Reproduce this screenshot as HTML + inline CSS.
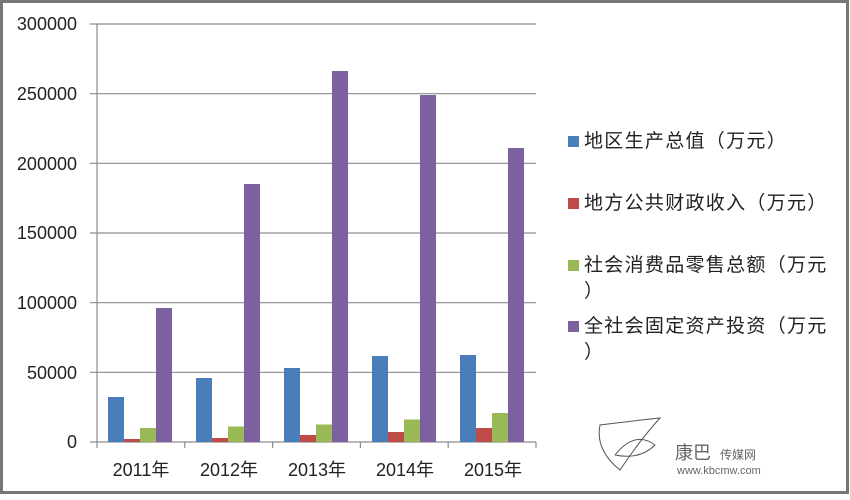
<!DOCTYPE html>
<html><head><meta charset="utf-8"><style>
body{margin:0;background:#fff}
svg text{font-family:"Liberation Sans","Noto Sans CJK SC",sans-serif;fill:#222}
</style></head><body>
<svg width="850" height="495" xmlns="http://www.w3.org/2000/svg">
<rect x="1.5" y="1.5" width="846" height="491" fill="#fff" stroke="#777" stroke-width="3"/>
<g stroke="#8c8c8c" stroke-width="1.2">
<line x1="90" y1="24" x2="536" y2="24"/>
<line x1="90" y1="93.7" x2="536" y2="93.7"/>
<line x1="90" y1="163.3" x2="536" y2="163.3"/>
<line x1="90" y1="233" x2="536" y2="233"/>
<line x1="90" y1="302.7" x2="536" y2="302.7"/>
<line x1="90" y1="372.3" x2="536" y2="372.3"/>
<line x1="90" y1="442" x2="536" y2="442"/>
<line x1="97" y1="24" x2="97" y2="448"/>
<line x1="184.8" y1="442" x2="184.8" y2="448"/>
<line x1="272.6" y1="442" x2="272.6" y2="448"/>
<line x1="360.4" y1="442" x2="360.4" y2="448"/>
<line x1="448.2" y1="442" x2="448.2" y2="448"/>
<line x1="536" y1="442" x2="536" y2="448"/>
</g>
<g font-size="18" text-anchor="end">
<text x="77" y="30">300000</text><text x="77" y="100">250000</text><text x="77" y="170">200000</text>
<text x="77" y="239">150000</text><text x="77" y="309">100000</text><text x="77" y="379">50000</text><text x="77" y="448">0</text>
</g>
<g font-size="18" text-anchor="middle">
<text x="141" y="476">2011年</text><text x="229" y="476">2012年</text><text x="317" y="476">2013年</text><text x="405" y="476">2014年</text><text x="493" y="476">2015年</text>
</g>
<g>
<rect x="108" y="397" width="16" height="45" fill="#4a7ebb"/><rect x="124" y="439" width="16" height="3" fill="#be4b48"/><rect x="140" y="428" width="16" height="14" fill="#98b954"/><rect x="156" y="308" width="16" height="134" fill="#7d60a0"/>
<rect x="196" y="378" width="16" height="64" fill="#4a7ebb"/><rect x="212" y="438" width="16" height="4" fill="#be4b48"/><rect x="228" y="426.5" width="16" height="15.5" fill="#98b954"/><rect x="244" y="184" width="16" height="258" fill="#7d60a0"/>
<rect x="284" y="368" width="16" height="74" fill="#4a7ebb"/><rect x="300" y="435" width="16" height="7" fill="#be4b48"/><rect x="316" y="424.5" width="16" height="17.5" fill="#98b954"/><rect x="332" y="71" width="16" height="371" fill="#7d60a0"/>
<rect x="372" y="356" width="16" height="86" fill="#4a7ebb"/><rect x="388" y="432" width="16" height="10" fill="#be4b48"/><rect x="404" y="419.5" width="16" height="22.5" fill="#98b954"/><rect x="420" y="95" width="16" height="347" fill="#7d60a0"/>
<rect x="460" y="355" width="16" height="87" fill="#4a7ebb"/><rect x="476" y="428" width="16" height="14" fill="#be4b48"/><rect x="492" y="413" width="16" height="29" fill="#98b954"/><rect x="508" y="148" width="16" height="294" fill="#7d60a0"/>
</g>
<g font-size="19" letter-spacing="1.3">
<rect x="568" y="136" width="11" height="11" fill="#4a7ebb"/><text x="584" y="147">地区生产总值（万元）</text>
<rect x="568" y="198" width="11" height="11" fill="#be4b48"/><text x="584" y="209">地方公共财政收入（万元）</text>
<rect x="568" y="260" width="11" height="11" fill="#98b954"/><text x="584" y="271">社会消费品零售总额（万元</text><text x="584" y="297">）</text>
<rect x="568" y="321" width="11" height="11" fill="#7d60a0"/><text x="584" y="332">全社会固定资产投资（万元</text><text x="584" y="358">）</text>
</g>
<g fill="none" stroke="#555" stroke-width="1">
<path d="M600 425 Q640 420 660 418 Q640 440 620 470 Q595 450 600 425 Z"/>
<path d="M615 455 Q635 430 655 445 Q640 460 615 455"/>
</g>
<text x="675" y="459" font-size="18" style="fill:#666">康巴</text><text x="720" y="459" font-size="12" style="fill:#666">传媒网</text>
<text x="677" y="474" font-size="11" style="fill:#666">www.kbcmw.com</text>
</svg>
</body></html>
